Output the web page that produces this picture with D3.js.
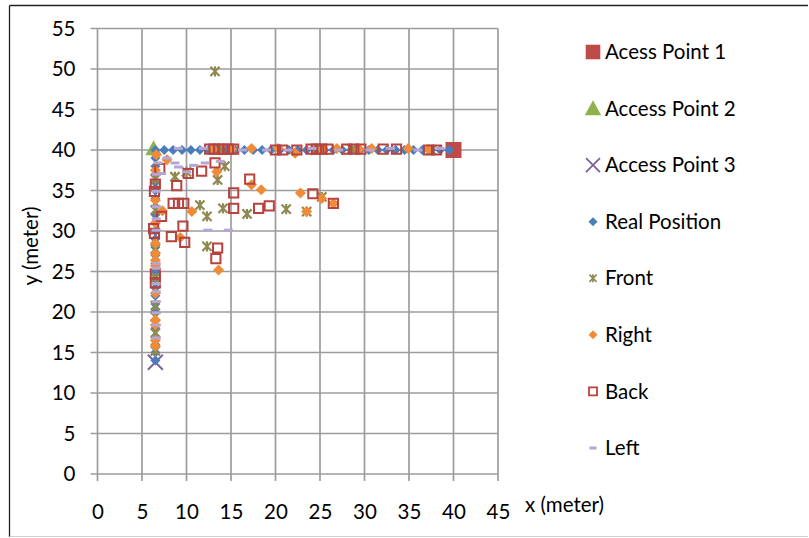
<!DOCTYPE html>
<html><head><meta charset="utf-8">
<script src="https://cdn.jsdelivr.net/npm/d3@7"></script>
<style>
html,body{margin:0;padding:0;background:#fff;}
svg{display:block;}
text{font-family:Lato,"Open Sans",sans-serif;fill:#000;}
</style></head>
<body>
<svg id="chart" width="809" height="538"></svg>
<script>
// ---------- data ----------
const xTicks = [0,5,10,15,20,25,30,35,40,45];
const yTicks = [0,5,10,15,20,25,30,35,40,45,50,55];
const seriesNames = ["Acess Point 1","Access Point 2","Access Point 3","Real Position","Front","Right","Back","Left"];

const accessPoint1 = [[40,40]];
const accessPoint2 = [[6.3,40.2]];
const accessPoint3 = [[6.5,13.8]];

const realPosition = [
  [6.5,40],[7.5,40],[8.5,40],[9.5,40],[10.5,40],[11.5,40],[12.5,40],[13.5,40],[14.5,40],[15.5,40],
  [16.5,40],[17.5,40],[18.5,40],[19.5,40],[20.5,40],[21.5,40],[22.5,40],[23.5,40],[24.5,40],[25.5,40],
  [26.5,40],[27.5,40],[28.5,40],[29.5,40],[30.5,40],[31.5,40],[32.5,40],[33.5,40],[34.5,40],[35.5,40],
  [36.5,40],[37.5,40],[38.5,40],[39.5,40],
  [6.5,39],[6.5,38],[6.5,37],[6.5,36],[6.5,35],[6.5,34],[6.5,33],[6.5,32],[6.5,31],[6.5,30],
  [6.5,29],[6.5,28],[6.5,27],[6.5,26],[6.5,25],[6.5,24],[6.5,23],[6.5,22],[6.5,21],[6.5,20],
  [6.5,19],[6.5,18],[6.5,17],[6.5,16],[6.5,15],[6.5,14]
];

const front = [
  [13.2,49.7],[8.7,36.7],[10.0,37.3],[13.5,36.3],[14.3,38.0],[11.5,33.2],[12.3,31.8],[14.1,32.8],
  [16.8,32.1],[21.2,32.7],[25.2,34.2],[23.5,32.4],[12.3,28.1],
  [6.5,36.4],[6.5,32.6],[6.5,27.8],[6.5,24.2],[6.5,20.8],[6.5,19.4],[6.5,17.4],[6.5,15.2],
  [13.8,40.1],[24.5,40.0],[28.6,40.1],[37.5,40.0]
];

const right = [
  [13.4,37.3],[18.4,35.1],[17.3,35.7],[10.6,32.4],[9.3,29.2],[13.6,25.2],[22.8,34.7],[25.2,34.0],
  [23.5,32.4],[26.5,33.4],[7.3,32.5],[6.6,39.4],[7.8,38.8],[6.5,37.5],
  [6.5,33.8],[6.5,31.0],[6.5,28.5],[6.5,27.2],[6.5,26.4],[6.5,25.7],[6.5,22.3],[6.5,19.0],
  [6.5,18.4],[6.5,16.5],[6.5,15.8],
  [17.3,40.2],[20.3,40.2],[22.2,39.6],[26.9,40.2],[30.8,40.2],[34.9,40.2],[13.0,40.1],[15.1,40.1],
  [25.3,40.1],[29.4,40.1],[37.2,40.1]
];

const back = [
  [7.0,37.7],[10.2,37.1],[11.7,37.4],[13.2,38.4],[6.5,35.8],[6.4,34.9],[8.9,35.6],
  [8.5,33.4],[9.1,33.4],[9.7,33.4],[7.2,31.8],[15.3,34.7],[15.3,32.8],[6.3,30.3],[9.6,30.6],
  [6.4,29.7],[8.3,29.3],[9.8,28.6],[13.5,27.9],[13.3,26.6],[6.5,24.7],[6.5,23.6],
  [17.1,36.4],[18.1,32.8],[19.3,33.1],[24.2,34.6],[26.5,33.4],
  [12.6,40.1],[13.1,40.1],[13.6,40.1],[14.1,40.1],[14.7,40.1],[15.3,40.1],
  [20.0,40.0],[20.8,40.0],[22.4,40.0],[24.0,40.1],[24.6,40.1],[25.2,40.1],[25.9,40.1],
  [28.0,40.1],[28.8,40.1],[29.6,40.1],[32.1,40.1],[33.6,40.1],[37.2,40.0],[38.1,40.0]
];

const left = [
  [7.8,39.0],[6.8,38.4],[8.7,38.4],[9.1,37.9],[10.0,37.3],[10.8,38.1],[12.1,38.4],[13.8,38.6],
  [7.2,37.1],[12.4,30.1],[14.7,30.1],[6.6,34.9],
  [6.6,37.0],[6.6,33.0],[6.6,31.5],[6.6,30.1],[6.6,26.0],[6.6,25.4],[6.6,23.5],[6.6,22.5],
  [6.6,21.3],[6.6,19.9],[6.6,18.4],[6.6,16.8],
  [9.1,40.2],[11.9,40.2],[16.3,40.0],[19.0,40.0],[21.4,40.0],[24.1,40.2],[27.1,40.0],[30.6,40.0],
  [32.9,40.2],[36.0,40.0],[38.5,40.2]
];

// ---------- drawing ----------
const svg = d3.select("#chart");
const x = d3.scaleLinear().domain([0,45]).range([97.5,498]);
const y = d3.scaleLinear().domain([0,55]).range([474,28.5]);
const gridColor = "#9d9d9d";
const fontSize = "20.5px";

// outer border
svg.append("line").attr("x1",9.5).attr("y1",5.5).attr("x2",808).attr("y2",5.5).attr("stroke","#222").attr("stroke-width",1.3);
svg.append("line").attr("x1",9.5).attr("y1",5.5).attr("x2",9.5).attr("y2",537).attr("stroke","#222").attr("stroke-width",1.3);
svg.append("line").attr("x1",9.5).attr("y1",536.5).attr("x2",808).attr("y2",536.5).attr("stroke","#d0d0d0").attr("stroke-width",1);

// grid
const grid = svg.append("g");
grid.selectAll(".vg").data(xTicks).join("line")
  .attr("x1",d=>x(d)).attr("x2",d=>x(d)).attr("y1",y(55)).attr("y2",y(0)+7)
  .attr("stroke",gridColor).attr("stroke-width",1.7);
grid.selectAll(".hg").data(yTicks).join("line")
  .attr("x1",x(0)-7).attr("x2",x(45)).attr("y1",d=>y(d)).attr("y2",d=>y(d))
  .attr("stroke",gridColor).attr("stroke-width",1.7);

// axes labels via d3 axes
const xAxis = svg.append("g").attr("transform",`translate(0,${y(0)})`)
  .call(d3.axisBottom(x).tickValues(xTicks).tickSize(0).tickPadding(30).tickFormat(d3.format("d")));
const yAxis = svg.append("g").attr("transform",`translate(${x(0)},0)`)
  .call(d3.axisLeft(y).tickValues(yTicks).tickSize(0).tickPadding(22).tickFormat(d3.format("d")));
[xAxis,yAxis].forEach(a=>{
  a.select(".domain").remove();
  a.selectAll("text").style("font-family","Lato, 'Open Sans', sans-serif").style("font-size",fontSize).attr("fill","#000");
});

svg.append("text").attr("x",525).attr("y",512).style("font-size",fontSize).text("x (meter)");
svg.append("text").attr("transform","translate(38,246) rotate(-90)").attr("text-anchor","middle")
  .style("font-size",fontSize).text("y (meter)");

// marker shapes
const diamondPath = r => `M0,${-r}L${r},0L0,${r}L${-r},0Z`;
const squarePath = h => `M${-h},${-h}H${h}V${h}H${-h}Z`;
const trianglePath = s => `M0,${-s*0.55}L${s*0.55},${s*0.45}L${-s*0.55},${s*0.45}Z`;
const xPath = r => `M${-r},${-r}L${r},${r}M${-r},${r}L${r},${-r}`;
const starPath = r => `M${-r},${-r}L${r},${r}M${-r},${r}L${r},${-r}M0,${-r*1.1}L0,${r*1.1}`;

const styles = {
  ap1:   {path:squarePath(8),  fill:"#be4b48", stroke:"none", sw:0},
  ap2:   {path:trianglePath(15), fill:"#8fb24f", stroke:"none", sw:0},
  ap3:   {path:xPath(7.5), fill:"none", stroke:"#7d62a0", sw:2},
  real:  {path:diamondPath(5), fill:"#4a7ebb", stroke:"none", sw:0},
  front: {path:starPath(4.6), fill:"none", stroke:"#8f8a51", sw:2.2},
  right: {path:diamondPath(5.5), fill:"#f08c38", stroke:"none", sw:0},
  back:  {path:squarePath(4.6), fill:"none", stroke:"#b8423e", sw:2},
  left:  {path:"M-4.5,-1.5H4.5V1.5H-4.5Z", fill:"#b6a6d4", stroke:"none", sw:0}
};

function drawSeries(data, st){
  svg.append("g").selectAll("path").data(data).join("path")
    .attr("transform",d=>`translate(${x(d[0])},${y(d[1])})`)
    .attr("d",st.path).attr("fill",st.fill).attr("stroke",st.stroke).attr("stroke-width",st.sw);
}
drawSeries(accessPoint1, styles.ap1);
drawSeries(accessPoint2, styles.ap2);
drawSeries(accessPoint3, styles.ap3);
drawSeries(realPosition, styles.real);
drawSeries(front, styles.front);
drawSeries(right, styles.right);
drawSeries(back, styles.back);
drawSeries(left, styles.left);

// legend
const legendStyles = [
  {path:squarePath(7.3), fill:"#be4b48", stroke:"none", sw:0},
  {path:trianglePath(15), fill:"#8fb24f", stroke:"none", sw:0},
  {path:xPath(7), fill:"none", stroke:"#7d62a0", sw:1.8},
  {path:diamondPath(4.5), fill:"#4a7ebb", stroke:"none", sw:0},
  {path:starPath(3.6), fill:"none", stroke:"#8f8a51", sw:1.7},
  {path:diamondPath(4.5), fill:"#f08c38", stroke:"none", sw:0},
  {path:squarePath(4), fill:"none", stroke:"#b8423e", sw:1.8},
  {path:"M-3.5,-1.5H3.5V1.5H-3.5Z", fill:"#b6a6d4", stroke:"none", sw:0}
];
const legendY = d3.scalePoint().domain(seriesNames).range([52,448]);
const lg = svg.append("g");
seriesNames.forEach((name,i)=>{
  const st = legendStyles[i];
  lg.append("path").attr("transform",`translate(593,${legendY(name)})`)
    .attr("d",st.path).attr("fill",st.fill).attr("stroke",st.stroke).attr("stroke-width",st.sw);
  lg.append("text").attr("x",605).attr("y",legendY(name)).attr("dy","0.35em")
    .style("font-size",fontSize).text(name);
});
</script>
</body></html>
